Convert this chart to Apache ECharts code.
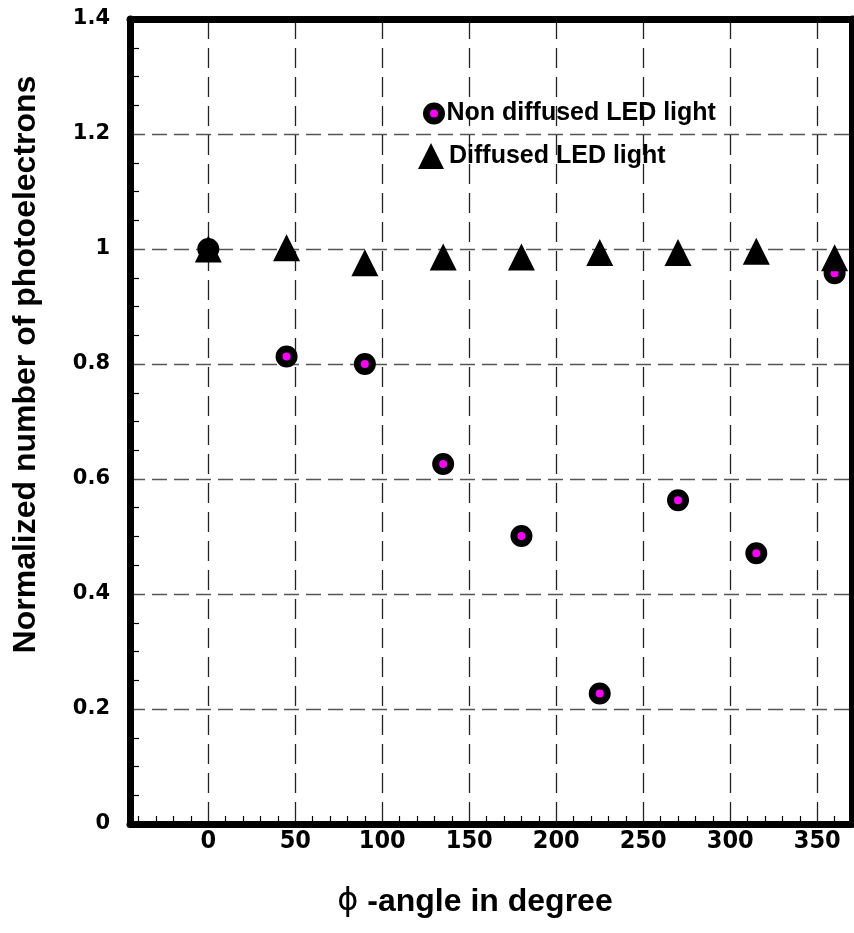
<!DOCTYPE html>
<html>
<head>
<meta charset="utf-8">
<script src="https://cdn.jsdelivr.net/npm/echarts@6/dist/echarts.min.js"></script>
<style>
  html, body { margin: 0; padding: 0; background: #fff; }
  #chart { width: 854px; height: 933px; }
</style>
</head>
<body>
<div id="chart"></div>
<script>
// phi angle of each measurement (degree)
const angles = [0, 45, 90, 135, 180, 225, 270, 315, 360];
// normalized photoelectrons
const nonDiffused = [1.0, 0.813, 0.800, 0.626, 0.501, 0.227, 0.563, 0.471, 0.958];
const diffused = [1.0, 1.002, 0.976, 0.986, 0.986, 0.994, 0.994, 0.996, 0.985];
const seriesNames = ['Non diffused LED light', 'Diffused LED light'];

const xRange = [-45, 370];
const yRange = [0, 1.4];

const toPoints = (ys) => angles.map((a, i) => [a, ys[i]]);

const frameLine = { show: true, onZero: false, lineStyle: { color: '#000', width: 7 } };
const frameAxis = {
    axisLine: frameLine,
    axisTick: { show: false },
    axisLabel: { show: false },
    splitLine: { show: false }
};
const boldFont = 'Liberation Sans, Arial, sans-serif';

let chart = echarts.init(document.getElementById('chart'));
chart.setOption({
    animation: false,
    backgroundColor: '#fff',
    grid: { left: 130, right: 2, top: 19, bottom: 109 },
    legend: [
        {
            data: [seriesNames[0]],
            orient: 'vertical',
            left: 423,
            top: 101,
            padding: 0,
            icon: 'circle',
            itemWidth: 15,
            itemHeight: 15,
            itemTextGap: 13,
            selectedMode: false,
            itemStyle: { color: '#ff00ff', borderColor: '#000', borderWidth: 7 },
            textStyle: { fontFamily: boldFont, fontWeight: 'bold', fontSize: 25, color: '#000' }
        },
        {
            data: [seriesNames[1]],
            orient: 'vertical',
            left: 418,
            top: 143,
            padding: 0,
            icon: 'triangle',
            itemWidth: 26,
            itemHeight: 26,
            itemTextGap: 5,
            selectedMode: false,
            itemStyle: { color: '#000', borderWidth: 0 },
            textStyle: { fontFamily: boldFont, fontWeight: 'bold', fontSize: 25, color: '#000' }
        }
    ],
    xAxis: [
        {
            type: 'value',
            min: xRange[0],
            max: xRange[1],
            splitNumber: 8,
            minInterval: 50,
            maxInterval: 50,
            z: 3,
            name: '{phi|ϕ} -angle in degree',
            nameLocation: 'middle',
            nameGap: 62,
            nameTextStyle: {
                fontFamily: boldFont,
                fontWeight: 'bold',
                fontSize: 32,
                color: '#000',
                padding: [0, 32, 0, 0],
                rich: {
                    phi: { fontFamily: 'DejaVu Sans', fontWeight: 'normal', fontSize: 32, color: '#000' }
                }
            },
            axisLine: frameLine,
            axisTick: { show: false, inside: true },
            minorTick: { show: true, splitNumber: 5, length: 8, lineStyle: { color: '#000', width: 1.2 } },
            axisLabel: {
                margin: 5,
                showMinLabel: false,
                showMaxLabel: false,
                fontFamily: 'DejaVu Sans Condensed, Liberation Sans Narrow, Arial Narrow, sans-serif',
                fontWeight: 'bold',
                fontSize: 25,
                color: '#000'
            },
            splitLine: {
                show: true,
                showMinLine: false,
                showMaxLine: false,
                lineStyle: { color: '#222', width: 1.3, type: [20, 9] }
            }
        },
        Object.assign({ type: 'value', position: 'top', min: xRange[0], max: xRange[1], z: 3 }, frameAxis)
    ],
    yAxis: [
        {
            type: 'value',
            min: yRange[0],
            max: yRange[1],
            interval: 0.2,
            z: 3,
            name: 'Normalized number of photoelectrons',
            nameLocation: 'middle',
            nameGap: 88,
            nameTextStyle: {
                fontFamily: boldFont,
                fontWeight: 'bold',
                fontSize: 32,
                color: '#000',
                padding: [0, 0, 0, 114]
            },
            axisLine: frameLine,
            axisTick: { show: false, inside: true },
            minorTick: { show: true, splitNumber: 4, length: 9, lineStyle: { color: '#000', width: 1.2 } },
            axisLabel: {
                margin: 20,
                fontFamily: 'DejaVu Sans, Verdana, sans-serif',
                fontWeight: 'bold',
                fontSize: 21,
                color: '#000'
            },
            splitLine: {
                show: true,
                showMinLine: false,
                showMaxLine: false,
                lineStyle: { color: '#555', width: 1.3, type: [15, 7] }
            }
        },
        Object.assign({ type: 'value', position: 'right', min: yRange[0], max: yRange[1], z: 3 }, frameAxis)
    ],
    series: [
        {
            name: seriesNames[0],
            type: 'scatter',
            symbol: 'circle',
            symbolSize: 15,
            itemStyle: { color: '#ff00ff', borderColor: '#000', borderWidth: 7, opacity: 1 },
            z: 4,
            data: toPoints(nonDiffused)
        },
        {
            name: seriesNames[1],
            type: 'scatter',
            symbol: 'triangle',
            symbolSize: [27, 27],
            itemStyle: { color: '#000', opacity: 1 },
            z: 5,
            data: toPoints(diffused)
        }
    ]
});
</script>
</body>
</html>
